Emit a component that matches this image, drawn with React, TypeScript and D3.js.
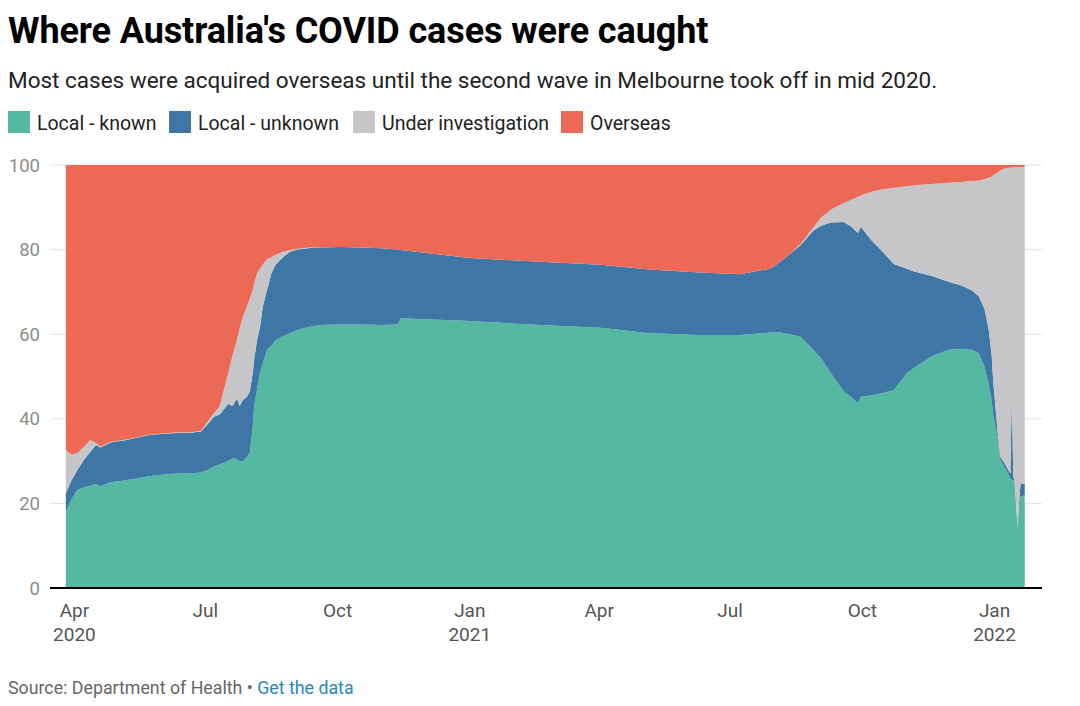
import { useMemo } from 'react';
import * as d3 from 'd3';

// Readings taken from the chart, share of cases (%) by source of infection
const DATES = [
  '2020-03-26', '2020-03-30', '2020-04-03', '2020-04-08', '2020-04-12', '2020-04-16', '2020-04-19', '2020-04-26',
  '2020-05-07', '2020-05-24', '2020-06-07', '2020-06-21', '2020-06-28', '2020-07-02', '2020-07-07', '2020-07-11',
  '2020-07-17', '2020-07-20', '2020-07-23', '2020-07-25', '2020-07-27', '2020-07-30', '2020-08-01', '2020-08-03',
  '2020-08-04', '2020-08-06', '2020-08-08', '2020-08-10', '2020-08-13', '2020-08-16', '2020-08-19', '2020-08-24',
  '2020-08-29', '2020-09-03', '2020-09-12', '2020-09-19', '2020-10-03', '2020-10-17', '2020-10-31', '2020-11-12',
  '2020-11-14', '2021-01-01', '2021-02-19', '2021-04-02', '2021-05-06', '2021-06-10', '2021-07-08', '2021-07-29',
  '2021-08-05', '2021-08-12', '2021-08-19', '2021-08-28', '2021-09-02', '2021-09-09', '2021-09-18', '2021-09-23',
  '2021-09-28', '2021-09-30', '2021-10-07', '2021-10-14', '2021-10-23', '2021-11-01', '2021-11-06', '2021-11-18',
  '2021-11-30', '2021-12-09', '2021-12-16', '2021-12-21', '2021-12-25', '2021-12-28', '2021-12-30', '2021-12-31',
  '2022-01-03', '2022-01-05', '2022-01-08', '2022-01-12', '2022-01-13', '2022-01-14', '2022-01-15', '2022-01-17',
  '2022-01-19', '2022-01-22',
];

const LOCAL_KNOWN = [
  18.0, 21.0, 23.2, 23.8, 24.2, 24.6, 24.0, 25.0,
  25.5, 26.5, 27.0, 27.1, 27.3, 27.8, 28.7, 29.2,
  30.0, 30.7, 30.5, 30.0, 29.9, 31.0, 32.0, 38.0,
  42.9, 47.0, 50.8, 53.0, 56.3, 57.3, 58.6, 59.5,
  60.3, 61.0, 61.8, 62.2, 62.3, 62.3, 62.2, 62.3,
  63.8, 63.1, 62.2, 61.5, 60.2, 59.8, 59.8, 60.4,
  60.4, 60.0, 59.4, 56.3, 54.5, 50.8, 46.5, 45.2,
  43.7, 45.2, 45.5, 46.0, 46.8, 50.8, 52.0, 54.7,
  56.3, 56.5, 56.3, 55.5, 52.3, 48.0, 44.4, 41.0,
  35.8, 30.3, 28.5, 26.0, 25.5, 25.5, 24.5, 14.3,
  21.5, 22.0,
];

const LOCAL_UNKNOWN = [
  4.4, 4.5, 4.7, 6.7, 8.0, 9.2, 9.2, 9.4,
  9.5, 9.7, 9.6, 9.6, 9.7, 10.7, 11.8, 11.8,
  13.5, 12.3, 14.3, 13.0, 14.5, 14.2, 14.5, 12.8,
  11.1, 11.6, 10.7, 13.5, 14.2, 17.1, 17.9, 18.7,
  19.2, 19.0, 18.6, 18.3, 18.3, 18.2, 18.1, 17.7,
  16.1, 14.9, 14.9, 14.9, 15.1, 14.8, 14.4, 15.1,
  16.7, 19.0, 21.6, 28.2, 31.1, 35.6, 40.0, 40.3,
  40.2, 40.2, 36.8, 33.9, 29.8, 24.7, 22.8, 19.1,
  16.1, 15.0, 14.1, 13.5, 13.7, 13.0, 10.6, 8.2,
  1.6, 0.7, 1.0, 1.0, 20.5, 1.0, 0.5, 0.2,
  3.1, 2.6,
];

const UNDER_INVESTIGATION = [
  10.2, 6.0, 4.0, 3.0, 2.8, 0.5, 0.2, 0.1,
  0.1, 0.1, 0.1, 0.1, 0.2, 0.5, 0.8, 1.9,
  7.3, 12.0, 13.8, 18.5, 19.6, 21.3, 22.0, 19.7,
  18.0, 15.8, 14.0, 10.0, 7.3, 3.8, 2.3, 1.3,
  0.4, 0.2, 0.1, 0.0, 0.0, 0.0, 0.0, 0.0,
  0.0, 0.0, 0.0, 0.0, 0.0, 0.0, 0.0, 0.0,
  0.0, 0.0, 0.3, 0.8, 1.9, 3.0, 4.5, 6.2,
  8.6, 7.4, 11.3, 14.3, 18.0, 19.5, 20.4, 21.7,
  23.4, 24.5, 25.8, 27.3, 30.7, 36.0, 42.2, 48.4,
  60.8, 67.7, 69.7, 72.4, 53.4, 72.9, 74.5, 85.0,
  74.9, 75.0,
];

const OVERSEAS = [
  67.4, 68.5, 68.1, 66.5, 65.0, 65.7, 66.6, 65.5,
  64.9, 63.7, 63.3, 63.2, 62.8, 61.0, 58.7, 57.1,
  49.2, 45.0, 41.4, 38.5, 36.0, 33.5, 31.5, 29.5,
  28.0, 25.6, 24.5, 23.5, 22.2, 21.8, 21.2, 20.5,
  20.1, 19.8, 19.5, 19.5, 19.4, 19.5, 19.7, 20.0,
  20.1, 22.0, 22.9, 23.6, 24.7, 25.4, 25.8, 24.5,
  22.9, 21.0, 18.7, 14.7, 12.5, 10.6, 9.0, 8.3,
  7.5, 7.2, 6.4, 5.8, 5.4, 5.0, 4.8, 4.5,
  4.2, 4.0, 3.8, 3.7, 3.3, 3.0, 2.8, 2.4,
  1.8, 1.3, 0.8, 0.6, 0.6, 0.6, 0.5, 0.5,
  0.5, 0.4,
];

const SERIES = ['Local - known', 'Local - unknown', 'Under investigation', 'Overseas'];
const COLORS = ['#55b8a0', '#3e76a6', '#c6c6c8', '#ec6a55'];

const Y_TICKS = [0, 20, 40, 60, 80, 100];
const X_TICKS = ['2020-04-01', '2020-07-01', '2020-10-01', '2021-01-01', '2021-04-01', '2021-07-01', '2021-10-01', '2022-01-01'];
const X_TICK_LABELS = [['Apr', '2020'], ['Jul'], ['Oct'], ['Jan', '2021'], ['Apr'], ['Jul'], ['Oct'], ['Jan', '2022']];

const FONT = 'Roboto, "Noto Sans", sans-serif';

export default function App() {
  const width = 1080;
  const height = 706;
  const plot = { left: 50, right: 1042, top: 165, bottom: 588 };

  const parse = d3.timeParse('%Y-%m-%d');

  const rows = useMemo(
    () =>
      DATES.map((d, i) => ({
        date: parse(d) as Date,
        [SERIES[0]]: LOCAL_KNOWN[i],
        [SERIES[1]]: LOCAL_UNKNOWN[i],
        [SERIES[2]]: UNDER_INVESTIGATION[i],
        [SERIES[3]]: OVERSEAS[i],
      })),
    []
  );

  const x = d3
    .scaleTime()
    .domain([parse('2020-03-15') as Date, parse('2022-02-03') as Date])
    .range([plot.left, plot.right]);

  const y = d3.scaleLinear().domain([0, 100]).range([plot.bottom, plot.top]);

  const stacked = d3.stack<any>().keys(SERIES)(rows);

  const area = d3
    .area<any>()
    .x((d) => x(d.data.date))
    .y0((d) => y(d[0]))
    .y1((d) => y(d[1]))
    .curve(d3.curveLinear);

  const legendX = [8, 169, 353, 561];

  return (
    <div style={{ position: 'absolute', left: 0, top: 0, width, height, background: '#fff' }}>
      <svg width={width} height={height} style={{ display: 'block' }} fontFamily={FONT}>
        <text x={8} y={43} fontSize={36} fontWeight={700} fill="#000" letterSpacing={-0.1}>
          Where Australia's COVID cases were caught
        </text>
        <text x={8} y={88} fontSize={22.5} fill="#222">
          Most cases were acquired overseas until the second wave in Melbourne took off in mid 2020.
        </text>

        {SERIES.map((s, i) => (
          <g key={s}>
            <rect x={legendX[i]} y={111} width={22} height={22} fill={COLORS[i]} />
            <text x={legendX[i] + 29} y={130} fontSize={19.5} fill="#222">
              {s}
            </text>
          </g>
        ))}

        {/* gridlines + y labels */}
        {Y_TICKS.map((t) => (
          <g key={t}>
            {t > 0 && (
              <line x1={plot.left} x2={plot.right} y1={y(t)} y2={y(t)} stroke="#e4e4e4" strokeWidth={1} />
            )}
            <text x={40} y={y(t)} dy="0.36em" textAnchor="end" fontSize={18.5} fill="#8c8c8c">
              {t}
            </text>
          </g>
        ))}

        {stacked.map((layer, i) => (
          <path key={layer.key} d={area(layer) || ''} fill={COLORS[i]} />
        ))}

        <line x1={plot.left} x2={plot.right} y1={plot.bottom} y2={plot.bottom} stroke="#000" strokeWidth={2} />

        {X_TICKS.map((t, i) => (
          <text key={t} x={x(parse(t) as Date)} y={617} textAnchor="middle" fontSize={19} fill="#555">
            {X_TICK_LABELS[i].map((line, j) => (
              <tspan key={j} x={x(parse(t) as Date)} dy={j === 0 ? 0 : 24}>
                {line}
              </tspan>
            ))}
          </text>
        ))}

        <text x={8} y={694} fontSize={17.8} fill="#666">
          Source: Department of Health •{' '}
          <tspan fill="#2e86b5">Get the data</tspan>
        </text>
      </svg>
    </div>
  );
}
